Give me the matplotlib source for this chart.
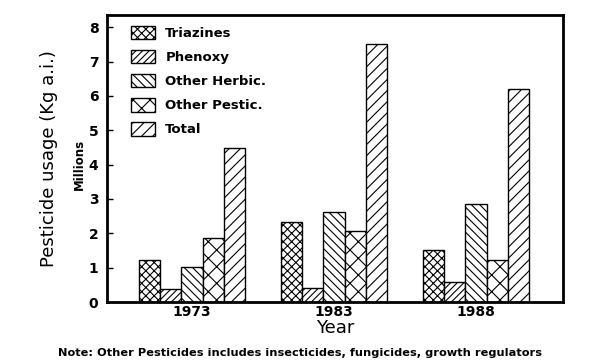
import numpy as np
import matplotlib
matplotlib.use('Agg')
import matplotlib.pyplot as plt

# data (millions kg a.i.)
years = ['1973', '1983', '1988']
series = ['Triazines', 'Phenoxy', 'Other Herbic.', 'Other Pestic.', 'Total']
triazines = [1.22, 2.34, 1.52]
phenoxy = [0.38, 0.42, 0.59]
other_herbic = [1.01, 2.63, 2.86]
other_pestic = [1.86, 2.08, 1.22]
total = [4.49, 7.51, 6.20]
values = [triazines, phenoxy, other_herbic, other_pestic, total]
hatches = ['xxxx', '/////', '\\\\\\\\', 'xx', '///']

plt.rcParams['hatch.linewidth'] = 0.8
fig = plt.figure(figsize=(6, 3.6), dpi=100)
ax = fig.add_axes([0.178, 0.161, 0.760, 0.797])

x = np.arange(len(years))
w = 0.15
for i, (name, v, h) in enumerate(zip(series, values, hatches)):
    ax.bar(x + (i - 2) * w, v, w, facecolor='white', edgecolor='black',
           hatch=h, linewidth=1.0, label=name)

ax.set_xlim(-0.6, 2.61)
ax.set_ylim(0, 8.35)
ax.set_yticks(range(0, 9))
ax.set_xticks(x)
ax.set_xticklabels(years)
ax.tick_params(axis='y', direction='in', length=4, width=1, labelsize=10, pad=6)
ax.tick_params(axis='x', length=0, labelsize=10, pad=2)
for lab in ax.get_yticklabels() + ax.get_xticklabels():
    lab.set_fontweight('bold')
for s in ax.spines.values():
    s.set_linewidth(2)

ax.set_xlabel('Year', fontsize=13, labelpad=0)
ax.set_ylabel('Pesticide usage (Kg a.i.)', fontsize=13, labelpad=22)
fig.text(0.133, 0.544, 'Millions', rotation=90, fontsize=8.5, fontweight='bold',
         ha='center', va='center')

leg = ax.legend(loc='upper left', frameon=False, fontsize=9.5,
                handlelength=1.8, handleheight=1.2, labelspacing=0.75,
                borderaxespad=0.4, bbox_to_anchor=(0.03, 1.0))
for t in leg.get_texts():
    t.set_fontweight('bold')

fig.text(0.5, 0.012, 'Note: Other Pesticides includes insecticides, fungicides, growth regulators',
         ha='center', fontsize=8.2, fontweight='bold')

fig.savefig('out.png', dpi=100)
